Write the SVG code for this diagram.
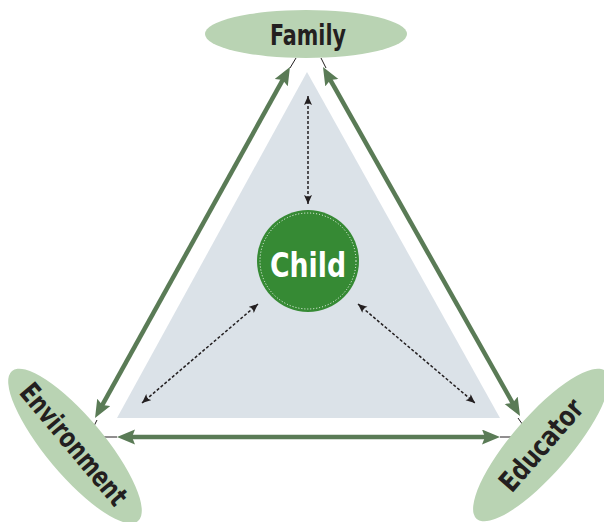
<svg xmlns="http://www.w3.org/2000/svg" width="604" height="522" viewBox="0 0 604 522">
<style>
.node{fill:#b9d3b3}
.lbl{font-family:"DejaVu Sans Condensed","DejaVu Sans",sans-serif;font-weight:bold;font-size:28px;fill:#231f20;text-anchor:middle}
.big{stroke:#5a7b56;stroke-width:4.5;fill:none}
.dash{stroke:#231f20;stroke-width:1.5;stroke-dasharray:3 2;fill:none}
.thin{stroke:#231f20;stroke-width:1;fill:none}
</style>
<defs>
<marker id="ga" markerUnits="userSpaceOnUse" markerWidth="20" markerHeight="16" refX="8" refY="7.5" orient="auto-start-reverse" viewBox="0 0 20 16">
<path d="M0,0 L18,7.5 L0,15 L3,7.5 z" fill="#5a7b56"/>
</marker>
<marker id="da" markerUnits="userSpaceOnUse" markerWidth="11" markerHeight="10" refX="9" refY="4" orient="auto-start-reverse" viewBox="0 0 11 10">
<path d="M0,0 L9,4 L0,8 L2,4 z" fill="#231f20"/>
</marker>
</defs>
<rect width="604" height="522" fill="#fff"/>
<polygon points="307,72 117,418 500,418" fill="#dbe2e8"/>
<g id="connectors">
<line class="big" x1="285.1" y1="75.7" x2="99.9" y2="409.3" marker-start="url(#ga)" marker-end="url(#ga)"/>
<line class="big" x1="327.9" y1="75.7" x2="515.1" y2="407.3" marker-start="url(#ga)" marker-end="url(#ga)"/>
<line class="big" x1="127" y1="437" x2="490" y2="437" marker-start="url(#ga)" marker-end="url(#ga)"/>
<line class="thin" x1="296" y1="58" x2="290" y2="68"/>
<line class="thin" x1="321" y1="58" x2="326" y2="68"/>
<line class="thin" x1="93" y1="428" x2="97" y2="420"/>
<line class="thin" x1="98" y1="437" x2="117" y2="437"/>
<line class="thin" x1="500" y1="437" x2="517" y2="437"/>
<line class="thin" x1="518" y1="418" x2="525" y2="428"/>
<line class="dash" x1="308" y1="96" x2="308" y2="204" marker-start="url(#da)" marker-end="url(#da)"/>
<line class="dash" x1="258" y1="304" x2="142" y2="403" marker-start="url(#da)" marker-end="url(#da)"/>
<line class="dash" x1="358" y1="304" x2="475" y2="403" marker-start="url(#da)" marker-end="url(#da)"/>
</g>
<g id="family">
<ellipse class="node" cx="306" cy="34" rx="101" ry="24"/>
<text class="lbl" x="308" y="45" textLength="76" lengthAdjust="spacingAndGlyphs">Family</text>
</g>
<g id="environment">
<ellipse class="node" cx="75" cy="446" rx="98" ry="29" transform="rotate(50 75 446)"/>
<text class="lbl" transform="translate(74 444) rotate(50)" x="0" y="10" textLength="150" lengthAdjust="spacingAndGlyphs">Environment</text>
</g>
<g id="educator">
<ellipse class="node" cx="541" cy="445" rx="98" ry="29" transform="rotate(-49 541 445)"/>
<text class="lbl" transform="translate(541 445) rotate(-49)" x="0" y="10" textLength="112" lengthAdjust="spacingAndGlyphs">Educator</text>
</g>
<g id="child">
<circle cx="308" cy="261" r="51" fill="#368a34"/>
<circle cx="308" cy="261" r="48" fill="none" stroke="#fff" stroke-width="1" stroke-dasharray="1 2"/>
<text x="308" y="277" font-family="DejaVu Sans Condensed,DejaVu Sans,sans-serif" font-weight="bold" font-size="34" fill="#fff" text-anchor="middle" textLength="76" lengthAdjust="spacingAndGlyphs">Child</text>
</g>
</svg>
